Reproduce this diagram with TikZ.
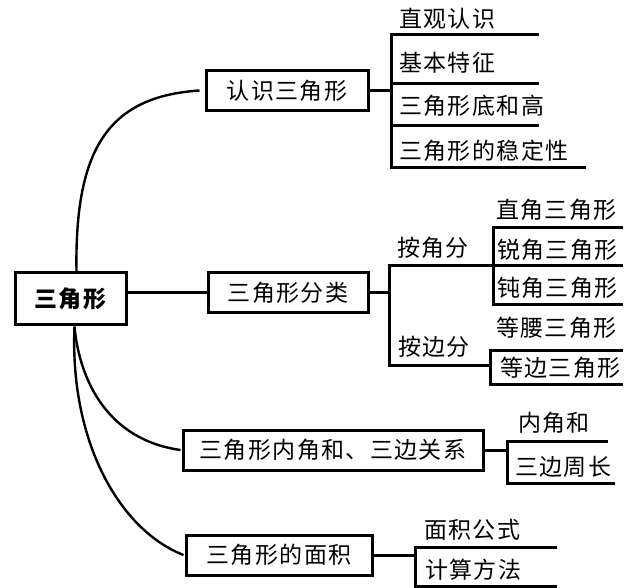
\documentclass[tikz,border=0pt]{standalone}
\usepackage{fontspec}
\newfontfamily\cjk[LetterSpace=6]{Noto Sans CJK SC}
\newcommand{\txt}{\cjk\fontsize{23}{27}\selectfont}
\tikzset{
  box/.style={draw, line width=3pt, minimum height=40pt, inner sep=0pt, font=\txt},
  leaf/.style={anchor=west, inner sep=0pt, font=\txt},
  ln/.style={line width=3pt},
  curve/.style={line width=2.4pt},
}
\begin{document}
\begin{tikzpicture}[x=1pt,y=-1pt]
  \useasboundingbox (0,0) rectangle (627,588);
  % main boxes
  \node[box, minimum width=111pt, minimum height=52pt, font=\txt\bfseries] (root) at (70.5,299) {三角形};
  \node[box, minimum width=162pt] (renshi) at (287,90.5) {认识三角形};
  \node[box, minimum width=160pt] (fenlei) at (288,293) {三角形分类};
  \node[box, minimum width=300pt] (neijiao) at (333,450) {三角形内角和、三边关系};
  \node[box, minimum width=186pt] (mianji) at (279,555) {三角形的面积};

  % links from the root
  \draw[curve] ([xshift=6pt]root.north) .. controls +(-2,-123) and +(-91,6) .. ([xshift=-5pt]renshi.west);
  \draw[ln] (root.east |- fenlei.west) -- (fenlei.west);
  \draw[curve] ([xshift=4pt]root.south) .. controls +(5,55) and +(-72,-10) .. ([xshift=-1pt]neijiao.west);
  \draw[curve] ([xshift=4pt]root.south) .. controls +(-5,115) and +(-64,-25) .. ([xshift=-1pt]mianji.west);

  % renshi
  \coordinate (rb) at (391,90.5);
  \draw[ln] (renshi.east) -- (rb);
  \draw[ln] (539,35) -- (391,35) -- (391,168) -- (586,168);
  \draw[ln] (391,84) -- (539,84);
  \draw[ln] (391,126) -- (539,126);
  \node[leaf] (zhiguan) at (399,19) {直观认识};
  \node[leaf] (jiben) at (399,63) {基本特征};
  \node[leaf] (dihe) at (399,106) {三角形底和高};
  \node[leaf] (wending) at (399,151) {三角形的稳定性};

  % fenlei
  \coordinate (fb) at (389,293);
  \draw[ln] (fenlei.east) -- (fb);
  \draw[ln] (493,266) -- (389,266) -- (389,365) -- (490,365);
  \node[leaf] (anjiao) at (397,248) {按角分};
  \node[leaf] (anbian) at (398,347) {按边分};
  \draw[ln] (623,228) -- (493,228) -- (493,305) -- (623,305);
  \draw[ln] (493,266) -- (623,266);
  \node[leaf] (zhijiao) at (496,210) {直角三角形};
  \node[leaf] (ruijiao) at (497,250) {锐角三角形};
  \node[leaf] (dunjiao) at (497,288) {钝角三角形};
  \draw[ln] (623,350) -- (490,350) -- (490,384) -- (623,384);
  \node[leaf] (dengyao) at (496,328) {等腰三角形};
  \node[leaf] (dengbian) at (500,368) {等边三角形};

  % neijiao
  \coordinate (nb) at (507,450);
  \draw[ln] (neijiao.east) -- (nb);
  \draw[ln] (608,441) -- (507,441) -- (507,483) -- (615,483);
  \node[leaf] (neijiaohe) at (518,423) {内角和};
  \node[leaf] (zhouchang) at (515,467) {三边周长};

  % mianji
  \coordinate (mb) at (415,555);
  \draw[ln] (mianji.east) -- (mb);
  \draw[ln] (557,547) -- (415,547) -- (415,586) -- (557,586);
  \node[leaf] (gongshi) at (424,530) {面积公式};
  \node[leaf] (fangfa) at (425,570) {计算方法};
\end{tikzpicture}
\end{document}
